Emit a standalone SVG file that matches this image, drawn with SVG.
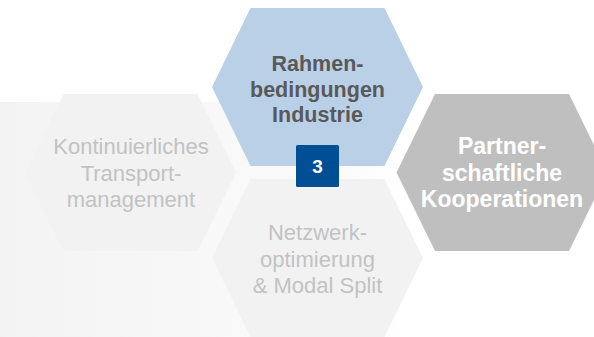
<svg xmlns="http://www.w3.org/2000/svg" width="594" height="337" viewBox="0 0 594 337">
  <defs>
    <linearGradient id="band" x1="0" y1="0" x2="1" y2="0">
      <stop offset="0" stop-color="#f3f3f3"/>
      <stop offset="0.85" stop-color="#fbfbfb"/>
      <stop offset="1" stop-color="#ffffff"/>
    </linearGradient>
  </defs>
  <style>
    text { font-family: "Liberation Sans", Arial, sans-serif; text-anchor: middle; }
    .faded { fill: #f2f2f2; }
    .faded-t { fill: #c2c2c2; font-size: 22px; }
    .blue { fill: #b9d0e7; }
    .blue-t { fill: #595959; font-size: 21.5px; font-weight: bold; }
    .grey { fill: #bfbfbf; }
    .grey-t { fill: #ffffff; font-size: 23px; font-weight: bold; }
    .badge { fill: #004f95; }
    .badge-t { fill: #ffffff; font-size: 19px; font-weight: bold; }
  </style>
  <rect x="0" y="102" width="405" height="235" fill="url(#band)"/>

  <g id="node-kontinuierliches">
    <polygon class="faded" points="63.5,94 197.5,94 236,172.5 197.5,251 63.5,251 25,172.5"/>
    <text class="faded-t" x="131" y="154">Kontinuierliches</text>
    <text class="faded-t" x="131" y="180.5">Transport-</text>
    <text class="faded-t" x="131" y="207">management</text>
  </g>

  <g id="node-netzwerk">
    <polygon class="faded" points="250.5,179 384.5,179 423,258 384.5,337 250.5,337 212,258"/>
    <text class="faded-t" x="317.5" y="240">Netzwerk-</text>
    <text class="faded-t" x="317.5" y="266.5">optimierung</text>
    <text class="faded-t" x="317.5" y="293">&amp; Modal Split</text>
  </g>

  <g id="node-partnerschaftliche">
    <polygon class="grey" points="435,94 569,94 607.5,172.5 569,251 435,251 396.5,172.5"/>
    <text class="grey-t" x="502" y="154">Partner-</text>
    <text class="grey-t" x="502" y="180.5">schaftliche</text>
    <text class="grey-t" x="502" y="207">Kooperationen</text>
  </g>

  <g id="node-rahmenbedingungen">
    <polygon class="blue" points="250.5,8 384.5,8 423,87 384.5,166 250.5,166 212,87"/>
    <text class="blue-t" x="317.5" y="71">Rahmen-</text>
    <text class="blue-t" x="317.5" y="96.5">bedingungen</text>
    <text class="blue-t" x="317.5" y="122">Industrie</text>
  </g>

  <g id="badge-3">
    <rect class="badge" x="296" y="145" width="43" height="42" rx="1.5"/>
    <text class="badge-t" x="317.5" y="172.5">3</text>
  </g>

  <g id="connectors"/>
</svg>
